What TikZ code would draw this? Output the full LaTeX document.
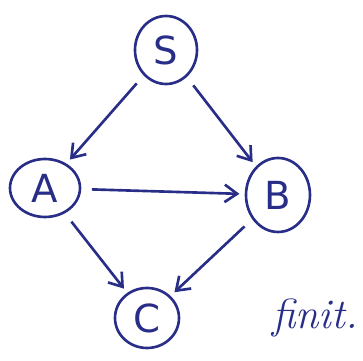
\documentclass[tikz,border=0pt]{standalone}
\usepackage{fontspec}
\setsansfont{DejaVu Sans}
\usetikzlibrary{shapes.geometric,arrows.meta}
\begin{document}
\begin{tikzpicture}[x=0.02cm,y=-0.02cm,
  ink/.style={draw=inkblue, line width=1.5pt},
  state/.style={ink, ellipse, inner sep=0pt, text=inkblue, font=\sffamily\fontsize{22}{22}\selectfont},
  edge/.style={ink, -{Straight Barb[length=2.5mm,width=3.5mm]}, shorten <=6pt, shorten >=3pt}]
\definecolor{inkblue}{RGB}{40,45,135}
\useasboundingbox (0,0) rectangle (363,361);
\node[state, minimum width=1.24cm, minimum height=1.36cm] (S) at (166,50) {S};
\node[state, minimum width=1.4cm, minimum height=1.16cm] (A) at (45,188) {A};
\node[state, minimum width=1.28cm, minimum height=1.48cm] (B) at (278,195) {B};
\node[state, minimum width=1.28cm, minimum height=1.2cm] (C) at (147,318) {C};
\draw[edge] (S) -- (A);
\draw[edge] (S) -- (B);
\draw[edge] (A) -- (B);
\draw[edge] (A) -- (C);
\draw[edge] (B) -- (C);
\node[text=inkblue, font=\itshape\fontsize{24}{24}\selectfont] (fin) at (315,318) {finit.};
\end{tikzpicture}
\end{document}
